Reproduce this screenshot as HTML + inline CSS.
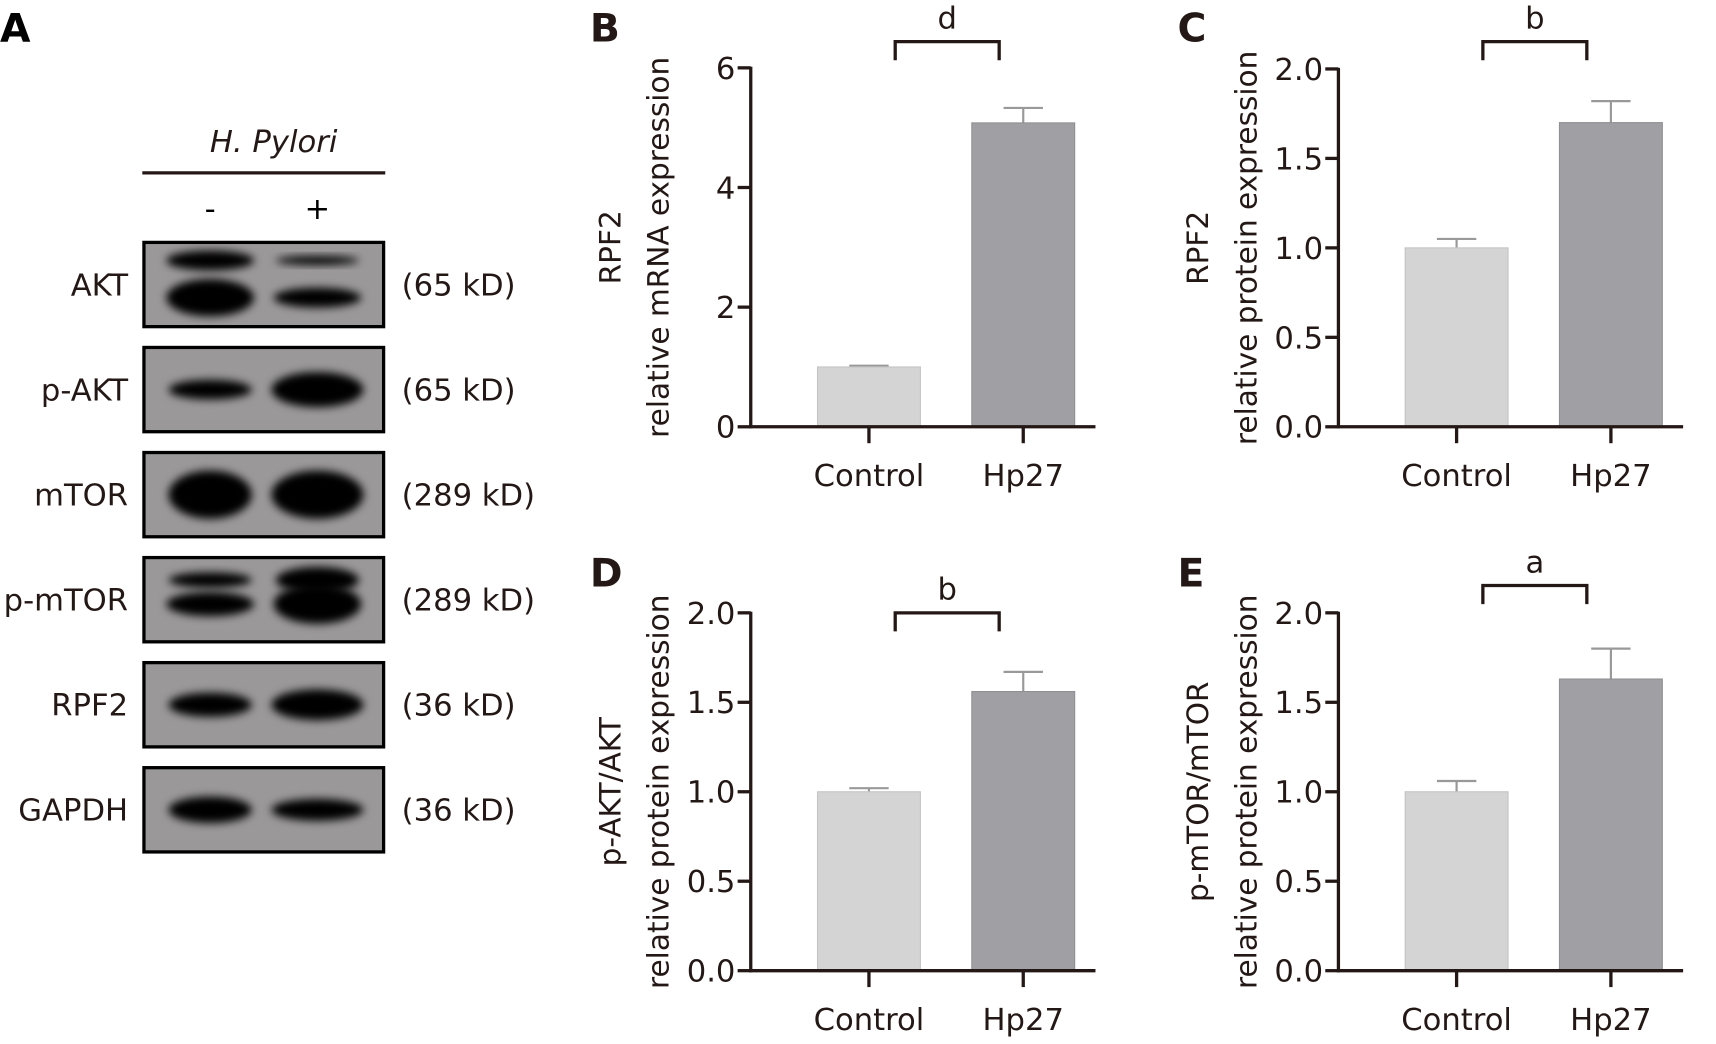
<!DOCTYPE html>
<html><head><meta charset="utf-8"><style>
html,body{margin:0;padding:0;background:#fff}
svg{display:block;font-family:"DejaVu Sans","Liberation Sans",sans-serif}
</style></head><body>
<svg id="fig" width="1716" height="1044" viewBox="0 0 1568 954" xmlns="http://www.w3.org/2000/svg">
<defs><filter id="blur" x="-20%" y="-50%" width="140%" height="200%"><feGaussianBlur stdDeviation="4"/></filter></defs>
<g id="panelA">
<text x="0" y="38" font-size="36" font-weight="bold">A</text>
<text x="250" y="139" font-size="28" font-style="italic" text-anchor="middle" fill="#231815">H. Pylori</text>
<line x1="130" y1="158" x2="352" y2="158" stroke="#231815" stroke-width="3"/>
<text x="192" y="200" font-size="28" text-anchor="middle">-</text>
<text x="290" y="200" font-size="28" text-anchor="middle">+</text>
</g>
<g id="charts"></g>
</svg>
<script>
const NS="http://www.w3.org/2000/svg";
const svg=document.getElementById('fig');
function mk(tag,attrs,parent,text){const e=document.createElementNS(NS,tag);for(const k in attrs)e.setAttribute(k,attrs[k]);if(text!==undefined)e.textContent=text;(parent||svg).appendChild(e);return e;}

// Blot data
const blotNames=["AKT","p-AKT","mTOR","p-mTOR","RPF2","GAPDH"];
const blotSizes=["(65 kD)","(65 kD)","(289 kD)","(289 kD)","(36 kD)","(36 kD)"];
const blotTops=[220,316,412,508,604,700];
const pA=document.getElementById('panelA');
blotNames.forEach((n,i)=>{
  const y=blotTops[i];
  const g=mk('g',{},pA);
  
  
  mk('rect',{x:131.5,y:y+1.5,width:219,height:77,fill:'#9a9898',stroke:'#000','stroke-width':3},g);
  const lanes=[192,290];
  lanes.forEach((cx,j)=>{
    if(n==="AKT"){
      mk('ellipse',{cx:cx,cy:y+18,rx:j?38:40,ry:j?4:9,fill:'#000',filter:'url(#blur)'},g);
      mk('ellipse',{cx:cx,cy:y+52,rx:40,ry:j?9:17,fill:'#000',filter:'url(#blur)'},g);
    }else if(n==="p-mTOR"){
      mk('ellipse',{cx:cx,cy:y+22,rx:38,ry:j?12:7,fill:'#000',filter:'url(#blur)'},g);
      mk('ellipse',{cx:cx,cy:y+44,rx:40,ry:j?18:11,fill:'#000',filter:'url(#blur)'},g);
    }else{
      const ry={"p-AKT":j?16:9,"mTOR":22,"RPF2":j?14:11,"GAPDH":j?10:12}[n];
      mk('ellipse',{cx:cx,cy:y+40,rx:j?42:38,ry:ry,fill:'#000',filter:'url(#blur)'},g);
    }
  });
  const t=mk('text',{x:117,y:y+50,'font-size':28,'text-anchor':'end',fill:'#231815'},pA,n);
  
  
  const s=mk('text',{x:367,y:y+50,'font-size':28,fill:'#231815'},pA,blotSizes[i]);
  
  
});

// Chart data
const categories=["Control","Hp27"];
const valuesB=[1.0,5.08], errB=[0.02,0.25];
const valuesC=[1.0,1.70], errC=[0.05,0.12];
const valuesD=[1.0,1.56], errD=[0.02,0.11];
const valuesE=[1.0,1.63], errE=[0.06,0.17];
const ticksB=[0,2,4,6], ticksProt=[0.0,0.5,1.0,1.5,2.0];
const tickLabelsB=["0","2","4","6"], tickLabelsProt=["0.0","0.5","1.0","1.5","2.0"];
const sigB="d", sigC="b", sigD="b", sigE="a";

const panels=[
 {id:'b',letter:'B',ax:686,top:62,bot:390,max:6,ticks:ticksB,tl:tickLabelsB,vals:valuesB,errs:errB,t1:"RPF2",t2:"relative mRNA expression",sig:sigB,brY:38},
 {id:'c',letter:'C',ax:1223,top:63,bot:390,max:2,ticks:ticksProt,tl:tickLabelsProt,vals:valuesC,errs:errC,t1:"RPF2",t2:"relative protein expression",sig:sigC,brY:38},
 {id:'d',letter:'D',ax:686,top:560,bot:887,max:2,ticks:ticksProt,tl:tickLabelsProt,vals:valuesD,errs:errD,t1:"p-AKT/AKT",t2:"relative protein expression",sig:sigD,brY:560},
 {id:'e',letter:'E',ax:1223,top:560,bot:887,max:2,ticks:ticksProt,tl:tickLabelsProt,vals:valuesE,errs:errE,t1:"p-mTOR/mTOR",t2:"relative protein expression",sig:sigE,brY:535}
];
const charts=document.getElementById('charts');
panels.forEach(p=>{
  const g=mk('g',{},charts);
  
  
  const y=v=>p.bot-(v/p.max)*(p.bot-p.top);
  const xc=i=>p.ax+108+i*141;
  const L=mk('text',{x:p.ax-147,y:38,'font-size':36,'font-weight':'bold',fill:'#231815'},g,p.letter);
  L.setAttribute('y', p.id==='b'||p.id==='c'?38:536);
  
  
  p.vals.forEach((v,i)=>{
    const top=y(v+p.errs[i]);
    mk('line',{x1:xc(i),x2:xc(i),y1:top,y2:y(v),stroke:'#999','stroke-width':2},g);
    mk('line',{x1:xc(i)-18,x2:xc(i)+18,y1:top,y2:top,stroke:'#999','stroke-width':2},g);
    const b=mk('rect',{x:xc(i)-47,y:y(v),width:94,height:p.bot-y(v),fill:i?'#a0a0a4':'#d4d4d4',stroke:i?'#909094':'#c4c4c4','stroke-width':1},g);
    
    
    mk('line',{x1:xc(i),x2:xc(i),y1:p.bot,y2:p.bot+15,stroke:'#231815','stroke-width':3},g);
    const t=mk('text',{x:xc(i),y:p.bot+54,'font-size':28,'text-anchor':'middle',fill:'#231815'},g,categories[i]);
    
    
  });
  mk('line',{x1:p.ax,x2:p.ax,y1:p.top-1,y2:p.bot+1.5,stroke:'#231815','stroke-width':3},g);
  mk('line',{x1:p.ax-1.5,x2:p.ax+315,y1:p.bot,y2:p.bot,stroke:'#231815','stroke-width':3},g);
  p.ticks.forEach((v,i)=>{
    mk('line',{x1:p.ax-12,x2:p.ax,y1:y(v),y2:y(v),stroke:'#231815','stroke-width':3},g);
    const t=mk('text',{x:p.ax-14,y:y(v)+10,'font-size':28,'text-anchor':'end',fill:'#231815'},g,p.tl[i]);
    
    
  });
  const cy=(p.top+p.bot)/2;
  const t1=mk('text',{x:0,y:0,'font-size':27,'text-anchor':'middle',fill:'#231815',transform:`translate(${p.ax-119},${cy}) rotate(-90)`},g,p.t1);
  
  
  const t2=mk('text',{x:0,y:0,'font-size':27,'text-anchor':'middle',fill:'#231815',transform:`translate(${p.ax-75},${cy}) rotate(-90)`},g,p.t2);
  
  
  const bx1=xc(0)+24,bx2=xc(1)-22;
  mk('path',{d:`M${bx1} ${p.brY+17}V${p.brY}H${bx2}V${p.brY+17}`,fill:'none',stroke:'#231815','stroke-width':3},g);
  const s=mk('text',{x:(bx1+bx2)/2,y:p.brY-12,'font-size':28,'text-anchor':'middle',fill:'#231815'},g,p.sig);
  
  
});
</script>
</body></html>
